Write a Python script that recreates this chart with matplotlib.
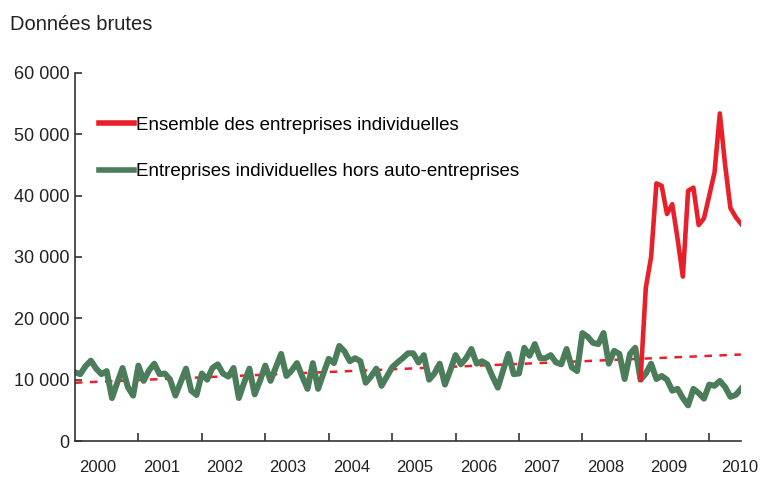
import matplotlib.pyplot as plt
import matplotlib.ticker as mticker
import numpy as np

plt.rcParams['font.family'] = ['Liberation Sans', 'DejaVu Sans']

# Monthly data, Jan 2000 - Jul 2010 (thousands)
hors_auto = [
    # 2000
    11.2, 10.9, 12.2, 13.1, 11.8, 10.9, 11.4, 7.0, 9.5, 11.9, 8.8, 7.4,
    # 2001
    12.3, 9.8, 11.5, 12.6, 10.9, 11.0, 10.0, 7.4, 9.6, 11.8, 8.2, 7.5,
    # 2002
    11.0, 10.0, 11.9, 12.5, 11.0, 10.5, 11.9, 7.0, 9.5, 11.8, 7.6, 9.8,
    # 2003
    12.3, 9.8, 12.0, 14.2, 10.6, 11.5, 12.7, 10.5, 8.5, 12.7, 8.5, 11.0,
    # 2004
    13.4, 12.7, 15.5, 14.6, 13.0, 13.5, 13.0, 9.5, 10.5, 11.8, 9.0, 10.5,
    # 2005
    12.0, 12.8, 13.5, 14.3, 14.3, 12.8, 14.0, 10.0, 11.0, 12.6, 9.2, 11.5,
    # 2006
    14.0, 12.5, 13.5, 15.0, 12.6, 13.0, 12.5, 10.5, 8.7, 11.5, 14.2, 10.9,
    # 2007
    11.0, 15.2, 13.9, 15.8, 13.5, 13.5, 14.0, 12.8, 12.5, 15.0, 12.0, 11.4,
    # 2008
    17.6, 17.0, 16.0, 15.8, 17.6, 12.6, 14.7, 14.2, 10.1, 14.2, 15.2, 10.0,
    # 2009
    11.0, 12.6, 10.1, 10.6, 10.0, 8.2, 8.5, 7.0, 5.8, 8.5, 7.8, 6.9,
    # 2010
    9.2, 9.0, 9.8, 8.8, 7.2, 7.5, 8.5,
]

# Ensemble des entreprises individuelles, Dec 2008 - Jul 2010 (thousands)
ensemble = [
    10.0,
    25.0, 30.0, 42.0, 41.6, 37.0, 38.6, 33.0, 26.8, 40.8, 41.3, 35.2, 36.3,
    40.0, 43.8, 53.4, 45.0, 38.0, 36.5, 35.4,
]

# Trend line endpoints (thousands)
trend_start = 9.5
trend_end = 14.1

years = list(range(2000, 2011))
year_labels = [str(y) for y in years]

red = '#e8202a'
green = '#4b7d5a'

x_green = 2000 + np.arange(len(hors_auto)) / 12
x_red = 2008 + 11 / 12 + np.arange(len(ensemble)) / 12
x_trend = [x_green[0], x_green[-1]]

fig = plt.figure(figsize=(7.62, 4.78), dpi=100)
ax = fig.add_axes([0.0984, 0.0774, 0.874, 0.770])

ax.plot(x_trend, np.array([trend_start, trend_end]) * 1000, color=red, lw=1.8,
        dashes=(3, 3), zorder=1)
ax.plot(x_green, np.array(hors_auto) * 1000, color=green, lw=4.3, zorder=2,
        label='Entreprises individuelles hors auto-entreprises')
ax.plot(x_red, np.array(ensemble) * 1000, color=red, lw=3.3, zorder=3,
        label='Ensemble des entreprises individuelles')

ax.set_xlim(2000, x_green[-1])
ax.set_ylim(0, 60000)

ax.set_xticks(years[1:])
ax.set_xticklabels([])
label_pos = [y + 0.36 for y in years[:-1]] + [years[-1] + 0.48]
ax.set_xticks(label_pos, minor=True)
ax.set_xticklabels(year_labels, minor=True)
ax.tick_params(axis='x', which='major', direction='in', length=6, width=1.2,
               colors='#333333')
ax.tick_params(axis='x', which='minor', length=0, pad=14, labelsize=12,
               labelcolor='#222222')

ax.set_yticks(range(0, 60001, 10000))
ax.yaxis.set_major_formatter(mticker.FuncFormatter(
    lambda v, p: f'{int(v):,}'.replace(',', ' ') if v else '0'))
ax.tick_params(axis='y', direction='in', length=5, width=1.2, labelsize=13,
               colors='#333333', labelcolor='#222222', pad=4)

for s in ['top', 'right']:
    ax.spines[s].set_visible(False)
for s in ['left', 'bottom']:
    ax.spines[s].set_color('#333333')
    ax.spines[s].set_linewidth(1.2)

handles, labels = ax.get_legend_handles_labels()
leg = ax.legend(handles[::-1], labels[::-1], loc='upper left',
                bbox_to_anchor=(0.118, 0.775), bbox_transform=fig.transFigure,
                frameon=False, fontsize=13.5, handlelength=1.85, handletextpad=0.1,
                labelspacing=1.55, borderpad=0)
for line in leg.get_lines():
    line.set_linewidth(4)

fig.text(0.013, 0.948, 'Données brutes', fontsize=14.5, color='#222222',
         ha='left', va='center')

fig.savefig('out.png', dpi=100)
